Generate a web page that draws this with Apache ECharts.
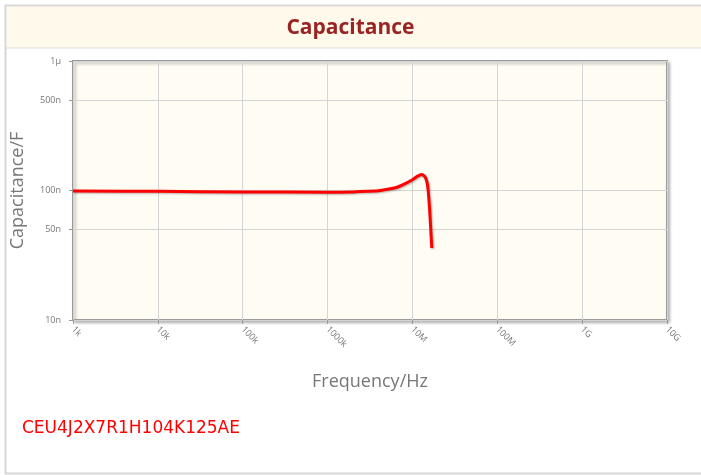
<!DOCTYPE html>
<html>
<head>
<meta charset="utf-8">
<script src="https://cdn.jsdelivr.net/npm/echarts@6/dist/echarts.min.js"></script>
<style>
html, body { margin: 0; padding: 0; background: #fff; }
#chart { width: 701px; height: 475px; }
</style>
</head>
<body>
<div id="chart"></div>
<script>
// frequency (Hz) and capacitance (F)
var freq = [1e3, 1e4, 1e5, 1e6, 2e6, 3e6, 4.2e6, 5.5e6, 6.6e6, 8e6, 1e7, 1.15e7, 1.29e7, 1.4e7, 1.48e7, 1.54e7, 1.61e7, 1.69e7];
var cap = [99e-9, 98.5e-9, 97.5e-9, 97e-9, 97.5e-9, 98.5e-9, 100e-9, 103e-9, 106e-9, 112e-9, 121e-9, 129e-9, 133e-9, 128e-9, 117e-9, 97e-9, 64e-9, 36e-9];
var xTicks = ['1k', '10k', '100k', '1000k', '10M', '100M', '1G', '10G'];
var yTickVals = [1e-8, 5e-8, 1e-7, 5e-7, 1e-6];
var yTickText = ['10n', '50n', '100n', '500n', '1\u03bc'];
var partNo = 'CEU4J2X7R1H104K125AE';

var pts = [];
for (var i = 0; i < freq.length; i++) pts.push([freq[i], cap[i]]);

var myChart = echarts.init(document.getElementById('chart'));
var option = {
    animation: false,
    textStyle: { fontFamily: 'Open Sans' },
    graphic: [
        // outer frame
        { type: 'rect', shape: { x: 5.5, y: 5.5, width: 700, height: 468 }, style: { fill: 'none', stroke: '#d6d6d6', lineWidth: 2 }, z: 0 },
        // title band
        { type: 'rect', shape: { x: 6, y: 6, width: 700, height: 42 }, style: { fill: '#fffaec', stroke: '#dcdcdc', lineWidth: 1 }, z: 1 },
        { type: 'text', left: 'center', top: 18, style: { text: 'Capacitance', fill: '#9a2323', font: 'bold 21px "Open Sans"' }, z: 2 },
        { type: 'text', left: 22, top: 420, style: { text: partNo, fill: '#ff0000', font: '17px "DejaVu Sans"' }, z: 2 }
    ],
    grid: {
        left: 73, right: 34, top: 61, bottom: 155,
        show: true,
        backgroundColor: '#fffcf3',
        borderColor: '#9a9a9a',
        borderWidth: 2,
        shadowColor: 'rgba(0,0,0,0.25)',
        shadowBlur: 3,
        shadowOffsetX: 2,
        shadowOffsetY: 2
    },
    xAxis: {
        type: 'log',
        logBase: 10,
        min: 1e3,
        max: 1e10,
        name: 'Frequency/Hz',
        nameLocation: 'middle',
        nameGap: 53,
        nameTextStyle: { color: '#777', fontSize: 18 },
        axisLine: { show: false },
        axisTick: { show: true, length: 4, lineStyle: { color: '#999' } },
        splitLine: { show: true, lineStyle: { color: '#d4d4d4', width: 1 } },
        axisLabel: {
            rotate: -45,
            color: '#777',
            fontSize: 9,
            margin: 8,
            formatter: function (v) {
                var k = Math.round(Math.log10(v)) - 3;
                return xTicks[k] || '';
            }
        }
    },
    yAxis: {
        type: 'log',
        logBase: 10,
        min: 1e-8,
        max: 1e-6,
        name: 'Capacitance/F',
        nameLocation: 'middle',
        nameGap: 46,
        nameTextStyle: { color: '#777', fontSize: 18 },
        axisLine: { show: false },
        axisTick: { show: true, length: 4, lineStyle: { color: '#999' }, customValues: yTickVals },
        splitLine: { show: true, lineStyle: { color: '#d4d4d4', width: 1 } },
        axisLabel: {
            color: '#777',
            fontSize: 9,
            margin: 12,
            customValues: yTickVals,
            formatter: function (v) {
                for (var j = 0; j < yTickVals.length; j++) {
                    if (Math.abs(Math.log10(v) - Math.log10(yTickVals[j])) < 0.01) return yTickText[j];
                }
                return '';
            }
        }
    },
    series: [{
        type: 'line',
        data: pts,
        smooth: 0.3,
        showSymbol: false,
        symbol: 'none',
        lineStyle: {
            color: '#ff0000',
            width: 3,
            shadowColor: 'rgba(0,0,0,0.3)',
            shadowBlur: 2,
            shadowOffsetX: 1,
            shadowOffsetY: 1
        }
    }]
};
myChart.setOption(option, true);
</script>
</body>
</html>
